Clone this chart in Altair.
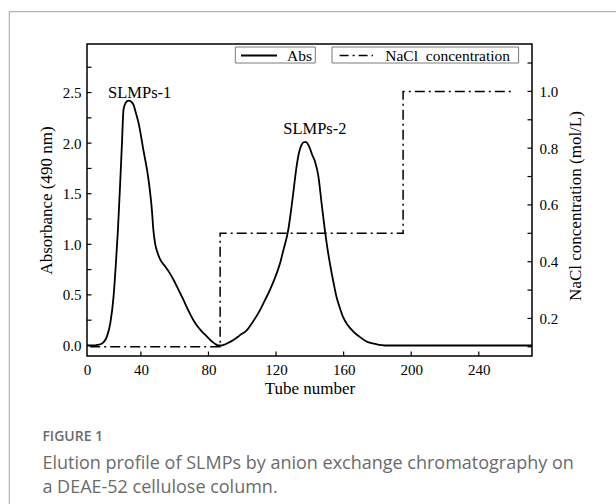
import altair as alt
import pandas as pd

# ---------------- data ----------------
tube = [8.1, 12, 14, 17, 19.9, 21.9, 23.8, 25.2, 26.4, 27.8, 28.8, 29.7, 31, 32.7, 34.2,
        35.6, 37, 38.6, 41.5, 44.5, 46.5, 47.4, 48.4, 50, 51.4, 54.4, 56.5, 59.3, 62,
        65.2, 68, 71.1, 73.5, 76, 79, 82, 84, 85.9, 87.5, 88.9, 91.5, 94.8, 98.5, 102.6,
        106.5, 110.5, 113.5, 116.4, 120.3, 122.5, 124.3, 127.2, 129, 130.5, 132, 133.5,
        135, 136.5, 137.7, 139.5, 141.5, 143, 145, 147, 148.9, 150.5, 151.9, 153.8,
        155.8, 157.8, 159.7, 162.5, 165.6, 169.5, 173.5, 179, 185.3, 271.5]
absorbance = [0.0, 0.0, 0.005, 0.02, 0.09, 0.22, 0.48, 0.81, 1.14, 1.63, 2.0, 2.33, 2.40,
              2.42, 2.41, 2.38, 2.30, 2.20, 1.93, 1.64, 1.34, 1.14, 1.01, 0.91, 0.85, 0.78,
              0.73, 0.65, 0.56, 0.45, 0.35, 0.25, 0.19, 0.14, 0.09, 0.04, 0.015, 0.0, 0.0,
              0.005, 0.025, 0.055, 0.10, 0.15, 0.24, 0.35, 0.45, 0.55, 0.71, 0.82, 0.94,
              1.14, 1.35, 1.55, 1.75, 1.90, 1.98, 2.01, 2.01, 1.97, 1.88, 1.82, 1.68, 1.40,
              1.14, 0.95, 0.81, 0.64, 0.48, 0.37, 0.28, 0.20, 0.14, 0.085, 0.04, 0.015, 0.0,
              0.0]

nacl_tube = [10, 86.9, 86.9, 195.2, 195.2, 260]
nacl_conc = [0.1, 0.1, 0.5, 0.5, 1.0, 1.0]

peak_names = ["SLMPs-1", "SLMPs-2"]
peak_tube = [39.3, 143]
peak_abs = [2.50, 2.14]

x_tick_values = [8.1, 40, 80, 120, 160, 200, 240]
x_tick_labels = ["0", "40", "80", "120", "160", "200", "240"]
left_major = [0.0, 0.5, 1.0, 1.5, 2.0, 2.5]
left_minor = [0.25, 0.75, 1.25, 1.75, 2.25, 2.75]
right_major = [0.2, 0.4, 0.6, 0.8, 1.0]
right_minor = [0.1, 0.3, 0.5, 0.7, 0.9, 1.1]

legend_labels = ["Abs", "NaCl\u00a0 concentration"]
right_title = "NaCl concentration (mol/L)"
caption_head = "FIGURE 1"
caption_lines = ["Elution profile of SLMPs by anion exchange chromatography on",
                 "a DEAE-52 cellulose column."]

# ---------------- layout / style ----------------
W, H = 445, 312
X_DOMAIN = [8.1, 271.5]
Y_LEFT = [-0.104, 2.98]
Y_RIGHT = [0.0677, 1.167]
SERIF = "Liberation Serif"
SANS = "Open Sans"
TICK = 4.5

abs_df = pd.DataFrame({"tube": tube, "abs": absorbance, "i": list(range(len(tube)))})
nacl_df = pd.DataFrame({"tube": nacl_tube, "conc": nacl_conc, "i": list(range(len(nacl_tube)))})
peaks_df = pd.DataFrame({"tube": peak_tube, "abs": peak_abs, "name": peak_names})
xt_df = pd.DataFrame({"tube": x_tick_values[1:]})
lt_df = pd.DataFrame({"abs": left_major + left_minor})
rt_df = pd.DataFrame({"conc": right_major + right_minor})
one = pd.DataFrame({"k": [0]})

xs = alt.Scale(domain=X_DOMAIN, nice=False, zero=False)
yl = alt.Scale(domain=Y_LEFT, nice=False, zero=False)
yr = alt.Scale(domain=Y_RIGHT, nice=False, zero=False)

vals_js = "[" + ",".join(str(v) for v in x_tick_values) + "]"
labs_js = "[" + ",".join("'" + s + "'" for s in x_tick_labels) + "]"

x_axis = alt.Axis(values=x_tick_values, labelExpr=f"{labs_js}[indexof({vals_js}, datum.value)]",
                  title="Tube number", ticks=False, domain=False, grid=False,
                  labelFont=SERIF, labelFontSize=15, labelColor="black", labelPadding=6,
                  labelFlush=False, labelOverlap=False,
                  titleFont=SERIF, titleFontSize=17, titleFontWeight="normal",
                  titleColor="black", titlePadding=3)
left_axis = alt.Axis(values=left_major, format=".1f", title="Absorbance (490 nm)",
                     ticks=False, domain=False, grid=False,
                     labelFont=SERIF, labelFontSize=15, labelColor="black", labelPadding=6,
                     titleFont=SERIF, titleFontSize=17, titleFontWeight="normal",
                     titleColor="black", titlePadding=7)
right_axis = alt.Axis(orient="right", values=right_major, format=".1f", title=None,
                      ticks=False, domain=False, grid=False,
                      labelFont=SERIF, labelFontSize=15, labelColor="black", labelPadding=7)

X = alt.X("tube:Q", scale=xs, axis=x_axis)
YL = alt.Y("abs:Q", scale=yl, axis=left_axis)
YR = alt.Y("conc:Q", scale=yr, axis=right_axis)

# frame of the whole figure (card border)
border = alt.Chart(one).mark_rect(fillOpacity=0, stroke="#b3b3b3", strokeWidth=1.2).encode(
    x=alt.value(-77.7), x2=alt.value(560), y=alt.value(-32.3), y2=alt.value(500))

abs_line = alt.Chart(abs_df).mark_line(color="black", strokeWidth=1.8,
                                       interpolate="monotone").encode(x=X, y=YL, order="i:Q")

x_ticks = alt.Chart(xt_df).mark_rule(color="black", strokeWidth=1.2).encode(
    x=X, y=alt.value(H), y2=alt.value(H - TICK))
l_ticks = alt.Chart(lt_df).mark_rule(color="black", strokeWidth=1.2).encode(
    y=YL, x=alt.value(0), x2=alt.value(TICK))

peak_text = alt.Chart(peaks_df).mark_text(font=SERIF, fontSize=16.5, color="black",
                                          baseline="middle").encode(x=X, y=YL, text="name:N")

# legend (drawn by hand, as in the figure)
leg_box1 = alt.Chart(one).mark_rect(fill="white", stroke="#7a7a7a", strokeWidth=1).encode(
    x=alt.value(148.3), x2=alt.value(228.3), y=alt.value(3), y2=alt.value(19))
leg_box2 = alt.Chart(one).mark_rect(fill="white", stroke="#7a7a7a", strokeWidth=1).encode(
    x=alt.value(245), x2=alt.value(431.6), y=alt.value(3), y2=alt.value(19))
leg_line1 = alt.Chart(one).mark_rule(color="black", strokeWidth=1.8).encode(
    x=alt.value(154), x2=alt.value(190), y=alt.value(11.5))
leg_line2 = alt.Chart(one).mark_rule(color="black", strokeWidth=1.5,
                                     strokeDash=[9, 4, 2, 4]).encode(
    x=alt.value(252.6), x2=alt.value(286), y=alt.value(11.5))
leg_text1 = alt.Chart(one).mark_text(font=SERIF, fontSize=15.5, color="black", align="left",
                                     baseline="middle").encode(
    x=alt.value(200), y=alt.value(11.5), text=alt.value(legend_labels[0]))
leg_text2 = alt.Chart(one).mark_text(font=SERIF, fontSize=15.5, color="black", align="left",
                                     baseline="middle").encode(
    x=alt.value(298.3), y=alt.value(11.5), text=alt.value(legend_labels[1]))

r_title = alt.Chart(one).mark_text(font=SERIF, fontSize=17, color="black", align="center",
                                   baseline="middle", angle=270).encode(
    x=alt.value(488.6), y=alt.value(162), text=alt.value(right_title))

cap_head = alt.Chart(one).mark_text(font=SANS, fontSize=14, fontWeight=600, color="#6b6b6b",
                                    align="left", baseline="middle").encode(
    x=alt.value(-44.6), y=alt.value(393), text=alt.value(caption_head))
cap1 = alt.Chart(one).mark_text(font=SANS, fontSize=18, color="#6b6b6b", align="left",
                                baseline="middle").encode(
    x=alt.value(-44.6), y=alt.value(420), text=alt.value(caption_lines[0]))
cap2 = alt.Chart(one).mark_text(font=SANS, fontSize=18, color="#6b6b6b", align="left",
                                baseline="middle").encode(
    x=alt.value(-44.6), y=alt.value(444), text=alt.value(caption_lines[1]))

left_group = alt.layer(border, abs_line, x_ticks, l_ticks, peak_text,
                       leg_box1, leg_box2, leg_line1, leg_line2, leg_text1, leg_text2,
                       r_title, cap_head, cap1, cap2)

nacl_line = alt.Chart(nacl_df).mark_line(color="black", strokeWidth=1.5,
                                         strokeDash=[10, 4, 2, 4]).encode(x=X, y=YR, order="i:Q")
r_ticks = alt.Chart(rt_df).mark_rule(color="black", strokeWidth=1.2).encode(
    y=YR, x=alt.value(W), x2=alt.value(W - TICK))
right_group = alt.layer(nacl_line, r_ticks)

chart = alt.layer(left_group, right_group).resolve_scale(y="independent").properties(
    width=W, height=H,
    padding={"left": 87, "top": 44, "right": 84, "bottom": 148},
    autosize=alt.AutoSizeParams(type="none"),
    background="white",
).configure_view(stroke="black", strokeWidth=1.5)

chart.save("out.html", embed_options={"renderer": "svg", "actions": False})
